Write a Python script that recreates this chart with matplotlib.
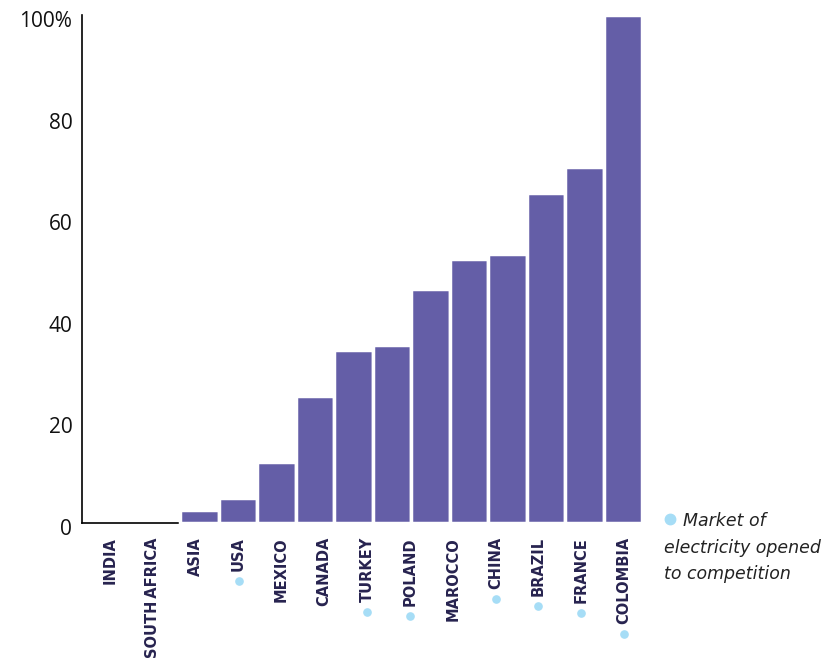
import matplotlib
matplotlib.use("Agg")
import matplotlib.pyplot as plt
import matplotlib.transforms as mtransforms
import numpy as np

# Share of the electricity market opened to competition (%)
bar_values = [0, 0, 2.5, 5, 12, 25, 34, 35, 46, 52, 53, 65, 70, 100]
countries = ["INDIA", "SOUTH\u2009AFRICA", "ASIA", "USA", "MEXICO", "CANADA", "TURKEY",
             "POLAND", "MAROCCO", "CHINA", "BRAZIL", "FRANCE", "COLOMBIA"]
opened = [False, False, False, True, False, False, True,
          True, False, True, True, True, True]
y_ticks = [0, 20, 40, 60, 80, 100]
y_tick_labels = ["0", "20", "40", "60", "80", "100%"]

BAR_COLOR = "#645EA7"
DOT_COLOR = "#A6DDF6"
LABEL_COLOR = "#27234F"

W, H = 827, 658
fig = plt.figure(figsize=(W / 100, H / 100), dpi=100)
ax = fig.add_axes([82 / W, (H - 523) / H, (643 - 82) / W, (523 - 15) / H])

x = np.arange(len(bar_values))
edges = ["white" if v > 0 else "none" for v in bar_values]
ax.bar(x, bar_values, width=1.0, color=BAR_COLOR, edgecolor=edges,
       linewidth=2.5, zorder=3, clip_on=False)
ax.set_xlim(-1.052, 13.52)
ax.set_ylim(0, 100)

for s in ("top", "right"):
    ax.spines[s].set_visible(False)
for s in ("left", "bottom"):
    ax.spines[s].set_color("black")
    ax.spines[s].set_linewidth(1.2)
ax.spines["bottom"].set_zorder(1)
ax.spines["left"].set_zorder(4)

ax.set_yticks(y_ticks)
ax.set_yticklabels(y_tick_labels, fontsize=15, family="Open Sans", color="#111111")
ax.tick_params(axis="y", length=0, pad=7)
ax.tick_params(axis="x", length=0)
ax.set_xticks([])
shift = mtransforms.ScaledTranslation(0, -4 / 100, fig.dpi_scale_trans)
for lbl in ax.get_yticklabels():
    lbl.set_transform(lbl.get_transform() + shift)

# Category labels sit on their own evenly spaced grid
label_pos = np.linspace(-0.325, 13.03, len(countries))
label_texts = []
for pos, name in zip(label_pos, countries):
    t = ax.annotate(name, xy=(pos, 0), xycoords=("data", "axes fraction"),
                    xytext=(0, -14), textcoords="offset pixels",
                    rotation=90, ha="center", va="top",
                    fontsize=10.5, fontweight="bold", family="DejaVu Sans",
                    color=LABEL_COLOR, annotation_clip=False)
    label_texts.append(t)

fig.canvas.draw()
renderer = fig.canvas.get_renderer()
for t, flag in zip(label_texts, opened):
    if not flag:
        continue
    bb = t.get_window_extent(renderer)
    cx = (bb.x0 + bb.x1) / 2
    cy = bb.y0 - 10
    fig.add_artist(plt.Line2D([cx / W], [cy / H], marker="o", markersize=5.2,
                              color=DOT_COLOR, linestyle="none",
                              transform=fig.transFigure))

# Legend note
fig.add_artist(plt.Line2D([670 / W], [(H - 519) / H], marker="o", markersize=7.5,
                          color=DOT_COLOR, linestyle="none", transform=fig.transFigure))
note_kw = dict(fontsize=12.5, style="italic", family="DejaVu Sans",
               color="#222222", va="baseline", ha="left")
fig.text(683 / W, (H - 526) / H, "Market of", **note_kw)
fig.text(664 / W, (H - 553) / H, "electricity opened", **note_kw)
fig.text(664 / W, (H - 579) / H, "to competition", **note_kw)

fig.savefig("out.png", dpi=100)
